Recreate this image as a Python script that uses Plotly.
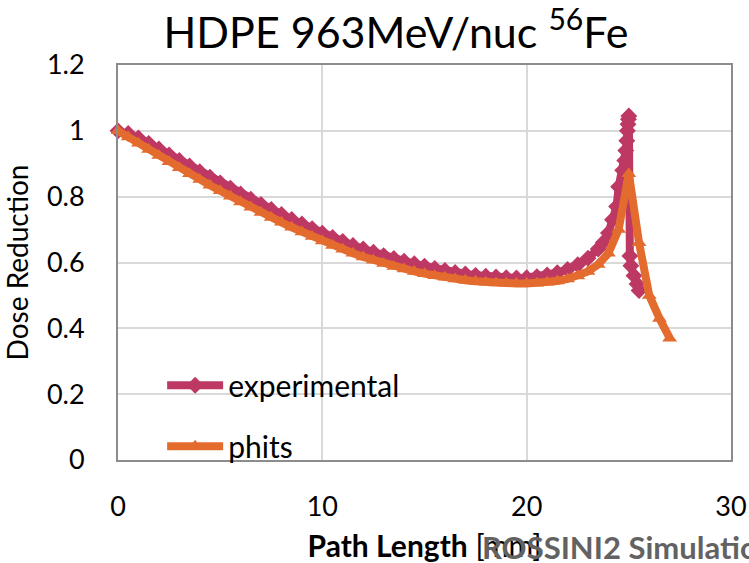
import plotly.graph_objects as go

# ---- data ----
exp_x = [0, 0.5, 1, 1.5, 2, 2.5, 3, 3.5, 4, 4.5, 5, 5.5, 6, 6.5, 7, 7.5, 8, 8.5, 9, 9.5,
         10, 10.5, 11, 11.5, 12, 12.5, 13, 13.5, 14, 14.5, 15, 15.5, 16, 16.5, 17, 17.5,
         18, 18.5, 19, 19.5, 20, 20.5, 21, 21.5, 22, 22.5, 23, 23.5, 23.75, 24, 24.2, 24.4,
         24.5, 24.7, 24.8, 24.85, 24.9, 24.93, 24.96, 24.98, 25.0, 25.05, 25.1, 25.25, 25.4, 25.5]
exp_y = [1.000, 0.992, 0.978, 0.962, 0.945, 0.927, 0.910, 0.893, 0.876, 0.859, 0.842, 0.826,
         0.808, 0.792, 0.776, 0.761, 0.746, 0.731, 0.717, 0.703, 0.689, 0.676, 0.664, 0.652,
         0.641, 0.631, 0.621, 0.612, 0.604, 0.596, 0.589, 0.582, 0.576, 0.570, 0.565, 0.561,
         0.558, 0.556, 0.554, 0.553, 0.554, 0.557, 0.562, 0.569, 0.579, 0.593, 0.613, 0.641,
         0.661, 0.690, 0.730, 0.770, 0.830, 0.880, 0.910, 0.940, 0.970, 1.000, 1.020, 1.035,
         1.045, 0.620, 0.590, 0.560, 0.535, 0.515]

phits_x = [0, 0.5, 1, 1.5, 2, 2.5, 3, 3.5, 4, 4.5, 5, 5.5, 6, 6.5, 7, 7.5, 8, 8.5, 9, 9.5,
           10, 10.5, 11, 11.5, 12, 12.5, 13, 13.5, 14, 14.5, 15, 15.5, 16, 16.5, 17, 17.5,
           18, 18.5, 19, 19.5, 20, 20.5, 21, 21.5, 22, 22.5, 23, 23.5, 24, 24.5, 25, 25.5,
           26, 26.5, 27]
phits_y = [1.000, 0.981, 0.962, 0.943, 0.925, 0.906, 0.888, 0.870, 0.852, 0.835, 0.818, 0.801,
           0.784, 0.768, 0.752, 0.737, 0.722, 0.707, 0.693, 0.679, 0.665, 0.652, 0.640, 0.628,
           0.617, 0.607, 0.597, 0.588, 0.580, 0.573, 0.566, 0.560, 0.555, 0.550, 0.546, 0.543,
           0.540, 0.538, 0.537, 0.536, 0.536, 0.537, 0.540, 0.544, 0.550, 0.559, 0.573, 0.594,
           0.628, 0.700, 0.870, 0.660, 0.500, 0.430, 0.370]

x_ticks = [0, 10, 20, 30]
y_ticks = [0, 0.2, 0.4, 0.6, 0.8, 1, 1.2]
y_tick_labels = ["0", "0.2", "0.4", "0.6", "0.8", "1", "1.2"]

FONT = "Lato, 'Open Sans', sans-serif"
EXP_COLOR = "#BD3862"
PHITS_COLOR = "#E46B2E"

fig = go.Figure()
fig.add_trace(go.Scatter(
    x=exp_x, y=exp_y, name="experimental", mode="lines+markers",
    line=dict(color=EXP_COLOR, width=8), legendgroup="a",
    marker=dict(symbol="diamond", size=13, color=EXP_COLOR), cliponaxis=False))
fig.add_trace(go.Scatter(
    x=phits_x, y=phits_y, name="phits", mode="lines+markers",
    line=dict(color=PHITS_COLOR, width=8), legendgroup="b",
    marker=dict(symbol="triangle-up", size=13, color=PHITS_COLOR), cliponaxis=False))

fig.update_layout(
    width=749, height=563,
    margin=dict(l=118, r=18, t=65, b=103, autoexpand=False),
    paper_bgcolor="white", plot_bgcolor="white",
    font=dict(family=FONT, color="#000000", size=26),
    title=dict(text="HDPE 963MeV/nuc <sup>56</sup>Fe", x=396 / 749, xanchor="center",
               y=1 - 33 / 563, yanchor="middle", font=dict(size=43, family=FONT),
               automargin=False),
    showlegend=True,
    legend=dict(x=0.072, y=0.255, xanchor="left", yanchor="top",
                bgcolor="rgba(0,0,0,0)", itemwidth=56, tracegroupgap=19,
                traceorder="grouped", font=dict(size=30, family=FONT)),
    xaxis=dict(range=[0, 30], tickvals=x_ticks, showgrid=True, gridcolor="#D9D9D9",
               gridwidth=2, zeroline=False, showline=True, linecolor="#8C8C8C",
               linewidth=2, mirror=True, ticks="", ticklabelstandoff=22, automargin=False,
               tickfont=dict(size=27, family=FONT),
               title=dict(text="<b>Path Length</b> [mm]", font=dict(size=30, family=FONT),
                          standoff=18)),
    yaxis=dict(range=[0, 1.2], tickvals=y_ticks, ticktext=y_tick_labels, showgrid=True,
               gridcolor="#D9D9D9", gridwidth=2, zeroline=False, showline=True,
               linecolor="#8C8C8C", linewidth=2, mirror=True, ticks="", automargin=False,
               ticklabelstandoff=26, tickfont=dict(size=27, family=FONT),
               title=dict(text="Dose Reduction", font=dict(size=28, family=FONT),
                          standoff=10)),
    annotations=[dict(text="<b>ROSSINI2 Simulation</b>", xref="paper", yref="paper",
                      x=(480 - 118) / 613, y=-(547 - 460) / 395, xanchor="left",
                      yanchor="middle", showarrow=False,
                      font=dict(size=31, family=FONT, color="#626262"))],
)

fig.write_html("out.html")
